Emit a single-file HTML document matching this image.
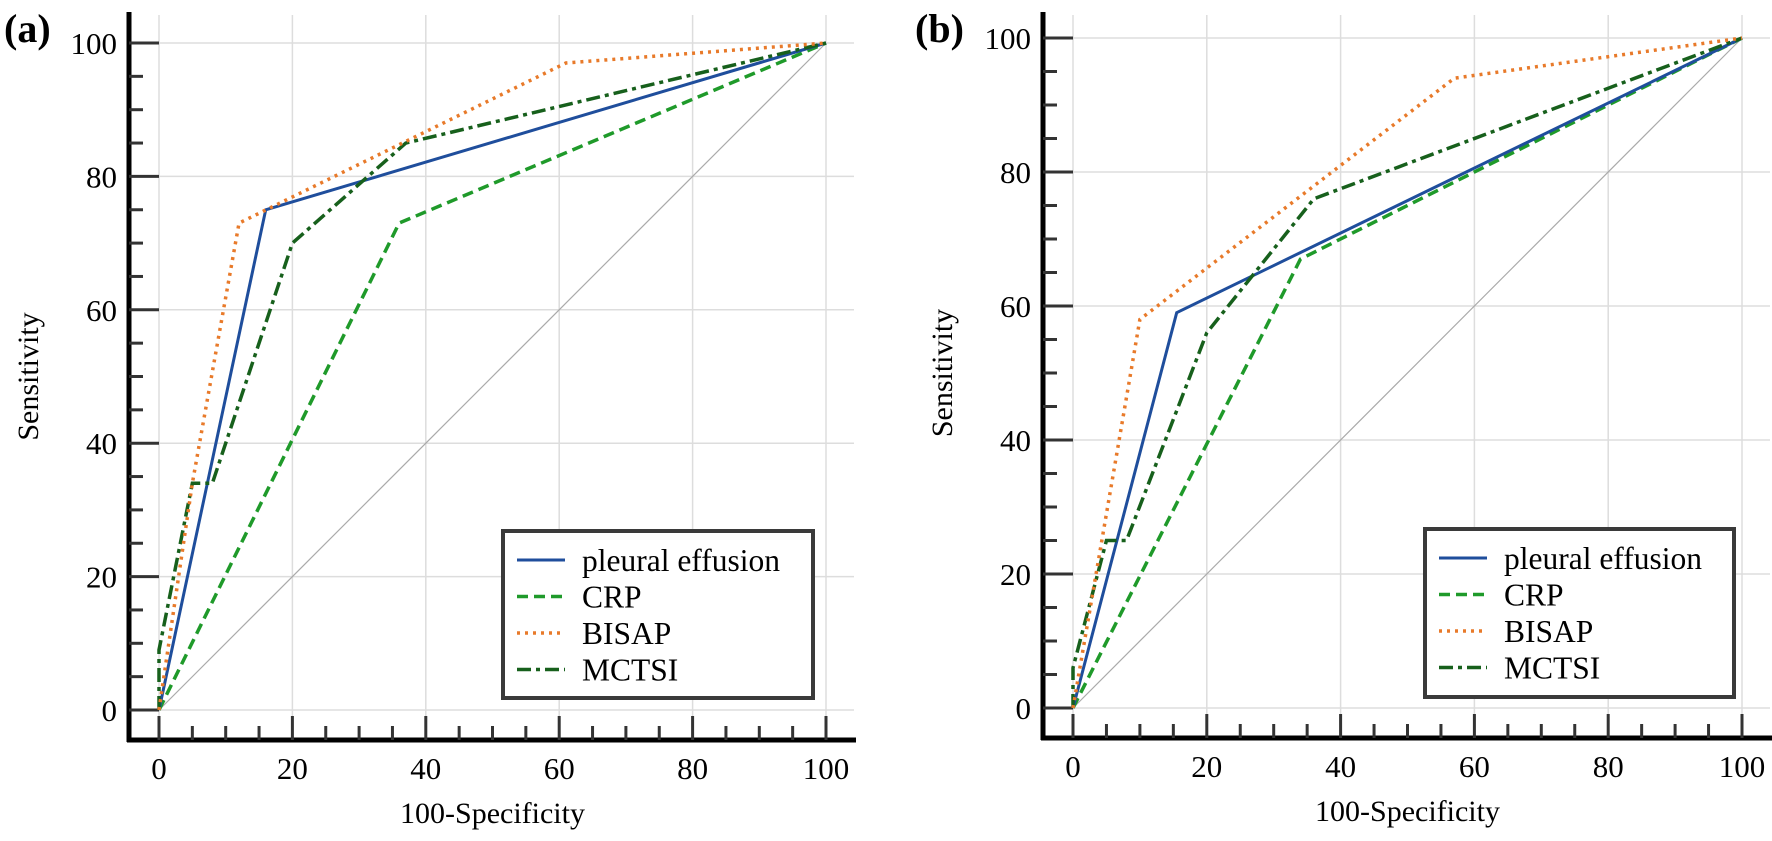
<!DOCTYPE html>
<html><head><meta charset="utf-8"><style>
html,body{margin:0;padding:0;background:#fff;}
svg{display:block;font-family:"Liberation Serif",serif;}
</style></head><body>
<svg id="s" width="1772" height="841" viewBox="0 0 1772 841" xmlns="http://www.w3.org/2000/svg"></svg>
<script>
const S=document.getElementById('s');let h='';
function panel(o){
 const X=v=>o.x0+v*o.sx, Y=v=>o.y0-v*o.sy;
 for(let v=0;v<=100;v+=20){
  h+=`<line x1="${X(v)}" y1="15" x2="${X(v)}" y2="${o.bot}" stroke="#ddd" stroke-width="1.5"/>`;
  h+=`<line x1="${o.ax}" y1="${Y(v)}" x2="${X(100)+28}" y2="${Y(v)}" stroke="#ddd" stroke-width="1.5"/>`;
 }
 h+=`<line x1="${X(0)}" y1="${Y(0)}" x2="${X(100)}" y2="${Y(100)}" stroke="#aaa" stroke-width="1.2"/>`;
 h+=`<line x1="${o.ax}" y1="12" x2="${o.ax}" y2="${o.bot+2}" stroke="#000" stroke-width="5"/>`;
 h+=`<line x1="${o.ax-2}" y1="${o.bot}" x2="${X(100)+30}" y2="${o.bot}" stroke="#000" stroke-width="5"/>`;
 for(let v=0;v<=100;v+=5){
  const maj=v%20==0;
  h+=`<line x1="${o.ax}" y1="${Y(v)}" x2="${maj?X(0):o.ax+14}" y2="${Y(v)}" stroke="#333" stroke-width="3"/>`;
  h+=`<line x1="${X(v)}" y1="${o.bot}" x2="${X(v)}" y2="${maj?o.bot-24:o.bot-14}" stroke="#333" stroke-width="3"/>`;
  if(maj){
   h+=`<text x="${o.ax-12}" y="${Y(v)+11}" font-size="31" text-anchor="end">${v}</text>`;
   h+=`<text x="${X(v)}" y="${o.bot+39}" font-size="31" text-anchor="middle">${v}</text>`;
  }
 }
 h+=`<text x="${o.lx}" y="33" font-size="40" font-weight="bold" dominant-baseline="middle">${o.lab}</text>`;
 h+=`<text transform="translate(${o.ylx},${Y(50)}) rotate(-90)" font-size="30" text-anchor="middle">Sensitivity</text>`;
 h+=`<text x="${X(50)}" y="${o.bot+83}" font-size="30" text-anchor="middle">100-Specificity</text>`;
 const st={pe:'stroke="#1f4e9c" stroke-width="3"',crp:'stroke="#1f9a2a" stroke-width="3.5" stroke-dasharray="11,6"',bi:'stroke="#e87a2a" stroke-width="3.5" stroke-dasharray="3,5"',mc:'stroke="#17601c" stroke-width="3.5" stroke-dasharray="14,5,4,5"'};
 for(const k of ['crp','pe','mc','bi']){
  h+=`<polyline fill="none" ${st[k]} points="${o.d[k].map(p=>X(p[0])+','+Y(p[1])).join(' ')}"/>`;
 }
 const L=o.leg;
 h+=`<rect x="${L[0]}" y="${L[1]}" width="${L[2]}" height="${L[3]}" fill="#fff" stroke="#3a3a3a" stroke-width="4"/>`;
 const names=[['pe','pleural effusion'],['crp','CRP'],['bi','BISAP'],['mc','MCTSI']];
 names.forEach((n,i)=>{const yy=L[1]+29+i*36.5;
  h+=`<line x1="${L[0]+14}" y1="${yy}" x2="${L[0]+62}" y2="${yy}" ${st[n[0]]}/>`;
  h+=`<text x="${L[0]+79}" y="${yy+11}" font-size="31.5">${n[1]}</text>`;});
}
panel({x0:159,sx:6.67,y0:710,sy:6.67,ax:129,bot:740,lab:'(a)',lx:4,ylx:38,leg:[503,531,310,167],
 d:{pe:[[0,0],[16,75],[100,100]],crp:[[0,0],[36,73],[100,100]],bi:[[0,0],[5,34],[12,73],[61,97],[100,100]],
 mc:[[0,0],[0,9],[5,34],[8,34],[20,70],[37,85],[100,100]]}});
panel({x0:1073,sx:6.69,y0:708,sy:6.7,ax:1043,bot:738,lab:'(b)',lx:915,ylx:952,leg:[1425,529,309,168],
 d:{pe:[[0,0],[15.5,59],[100,100]],crp:[[0,0],[34,67],[100,100]],bi:[[0,0],[10,58],[57,94],[100,100]],
 mc:[[0,0],[0,6],[5,25],[8,25],[20,56],[36,76],[100,100]]}});
S.innerHTML=h;
</script>
</body></html>
